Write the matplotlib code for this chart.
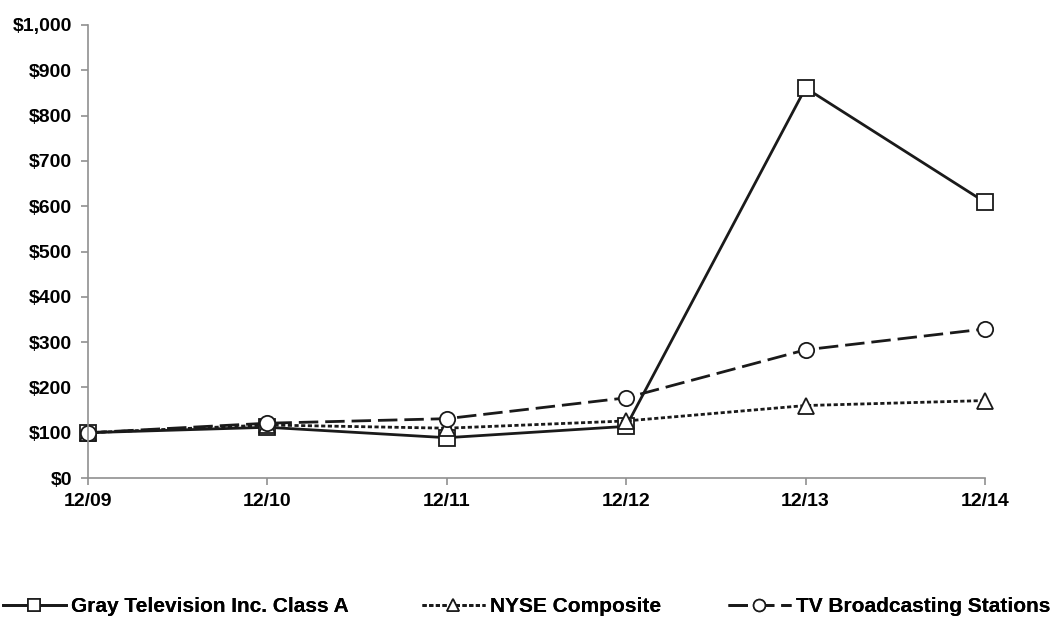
import matplotlib
matplotlib.use("Agg")
import matplotlib.pyplot as plt
from matplotlib.ticker import FuncFormatter
from matplotlib.lines import Line2D

periods = ["12/09", "12/10", "12/11", "12/12", "12/13", "12/14"]
gray_tv = [100, 112, 89, 114, 861, 609]
nyse = [100, 117, 110, 126, 160, 171]
tv_broadcasting = [100, 121, 131, 177, 283, 329]
series_names = ["Gray Television Inc. Class A", "NYSE Composite", "TV Broadcasting Stations"]

fam = ['Liberation Sans', 'DejaVu Sans']
plt.rcParams['font.family'] = fam
plt.rcParams['font.weight'] = 'bold'

fig = plt.figure(figsize=(10.55, 6.2), dpi=100)
ax = fig.add_axes([0.0834, 0.229, 0.8502, 0.7307])

x = list(range(len(periods)))
ec = '#1a1a1a'
mk = dict(markersize=11, markerfacecolor='white', markeredgecolor=ec, markeredgewidth=1.3, clip_on=False)
styles = ['-', (0, (1.5, 0.9)), (0, (7, 2.5))]
markers = ['s', '^', 'o']
for vals, ls, m, nm in zip([gray_tv, nyse, tv_broadcasting], styles, markers, series_names):
    ax.plot(x, vals, color=ec, lw=2, linestyle=ls, marker=m, label=nm, **mk)

ax.set_xlim(0, len(periods) - 1)
ax.set_ylim(0, 1000)
ax.set_yticks(range(0, 1001, 100))
ax.yaxis.set_major_formatter(FuncFormatter(lambda v, p: f"${int(v):,}"))
ax.set_xticks(x)
ax.set_xticklabels(periods)
for s in ['top', 'right']:
    ax.spines[s].set_visible(False)
for s in ['left', 'bottom']:
    ax.spines[s].set_color('#909090')
    ax.spines[s].set_linewidth(1.2)
ax.tick_params(axis='both', colors='#909090', length=5, width=1.2, labelsize=14, labelcolor='black')
ax.tick_params(axis='y', pad=6.5)
ax.tick_params(axis='x', pad=6)
for lab in ax.get_xticklabels() + ax.get_yticklabels():
    lab.set_fontweight('bold')

# legend entries placed individually
leg_x = [3 / 1055, 422 / 1055, 728 / 1055]
for i in range(3):
    h = Line2D([0], [0], color=ec, lw=2, linestyle=styles[i], marker=markers[i], markersize=8.5,
               markerfacecolor='white', markeredgecolor=ec, markeredgewidth=1.2)
    lg = fig.legend(handles=[h], labels=[series_names[i]], loc='center left',
                    bbox_to_anchor=(leg_x[i], 0.021), frameon=False, handlelength=3.0,
                    handletextpad=0.25, borderpad=0, borderaxespad=0,
                    prop={'size': 15, 'weight': 'bold', 'family': fam})
    fig.add_artist(lg)
fig.savefig("out.png", dpi=100, facecolor='white')
